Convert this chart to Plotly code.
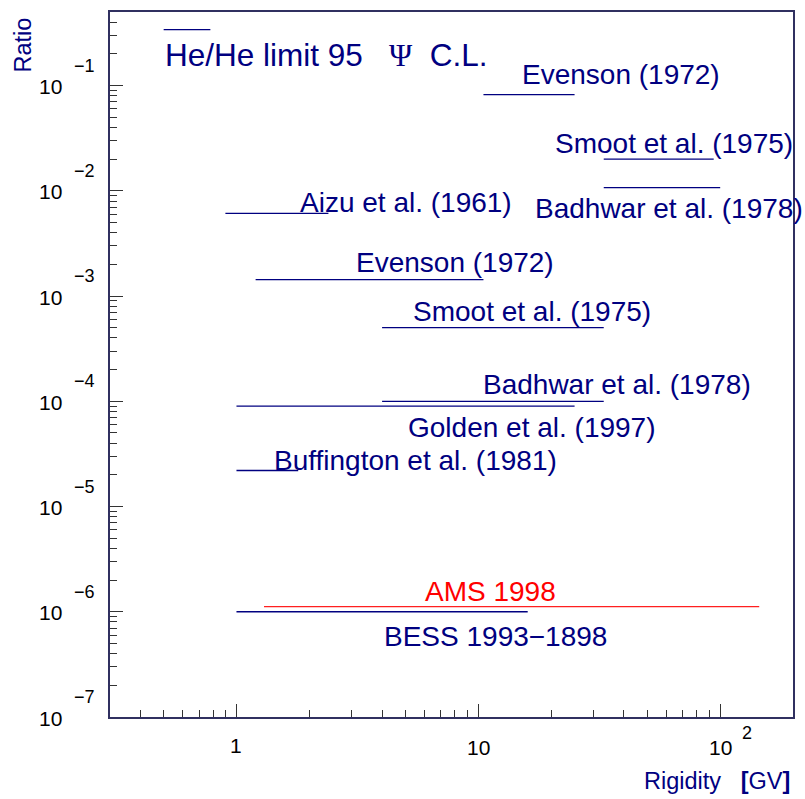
import numpy as np
import plotly.graph_objects as go

# ---------------- data ----------------
experiments = ["Evenson (1972)", "Smoot et al. (1975)", "Badhwar et al. (1978)",
               "Aizu et al. (1961)", "Evenson (1972)", "Smoot et al. (1975)",
               "Badhwar et al. (1978)", "Golden et al. (1997)", "Buffington et al. (1981)",
               "AMS 1998", "BESS 1993\u22121898"]
rig_lo = [10.5, 33.0, 33.0, 0.9, 1.2, 4.0, 4.0, 1.0, 1.0, 1.3, 1.0]
rig_hi = [25.0, 94.0, 100.0, 2.4, 10.5, 33.0, 33.0, 25.0, 1.8, 145.0, 16.0]
ratio = [8.2e-2, 2.0e-2, 1.07e-2, 6.1e-3, 1.43e-3, 5.0e-4, 1.0e-4, 9.0e-5, 2.2e-5, 1.12e-6, 1.0e-6]
is_ams = [False] * 9 + [True, False]

y_decades = [-7, -6, -5, -4, -3, -2, -1]

# label placement (log10 units: x, y of left/middle anchor)
label_pos = [(1.173, -0.895), (1.309, -1.551), (1.226, -2.168), (0.255, -2.111),
             (0.486, -2.681), (0.720, -3.146), (1.012, -3.840), (0.700, -4.248),
             (0.148, -4.561), (0.770, -5.805), (0.601, -6.233)]

# legend sample (rigidity range, ratio level)
legend_x = [0.5, 0.78]
legend_y = 0.34

NAVY = "#000080"
AXC = "#303060"
FONT = "Liberation Sans, Arial, sans-serif"

fig = go.Figure()
for lo, hi, r, ams in zip(rig_lo, rig_hi, ratio, is_ams):
    fig.add_trace(go.Scatter(x=[lo, hi], y=[r, r], mode="lines",
                             line=dict(color="#ff2020" if ams else NAVY, width=1.3),
                             showlegend=False, hoverinfo="skip", cliponaxis=False))

annotations = []
for txt, (lx, ly), ams in zip(experiments, label_pos, is_ams):
    annotations.append(dict(x=lx, y=ly, xref="x", yref="y", text=txt, showarrow=False,
                            xanchor="left", yanchor="middle",
                            font=dict(family=FONT, size=28, color="red" if ams else NAVY)))

# legend
annotations.append(dict(x=-0.305, y=-0.706, xref="x", yref="y", showarrow=False,
                        xanchor="left", yanchor="middle",
                        text="He/He limit 95\u00a0\u00a0\u00a0<span style='font-family:Liberation Serif'>\u03a8</span>\u00a0\u00a0C.L.",
                        font=dict(family=FONT, size=31.5, color=NAVY)))

# y tick labels
for e in y_decades:
    annotations.append(dict(x=0, y=e, xref="paper", yref="y", text="10", showarrow=False,
                            xanchor="right", yanchor="middle", xshift=-46, yshift=-1,
                            font=dict(family=FONT, size=21, color="black")))
    annotations.append(dict(x=0, y=e, xref="paper", yref="y", text="\u2212%d" % (-e),
                            showarrow=False, xanchor="left", yanchor="middle",
                            xshift=-38, yshift=20,
                            font=dict(family=FONT, size=18, color="black")))
# x tick labels
annotations.append(dict(x=0, y=0, xref="x", yref="paper", text="1", showarrow=False,
                        xanchor="center", yanchor="middle", yshift=-28,
                        font=dict(family=FONT, size=21, color="black")))
annotations.append(dict(x=1, y=0, xref="x", yref="paper", text="10", showarrow=False,
                        xanchor="center", yanchor="middle", yshift=-30,
                        font=dict(family=FONT, size=21, color="black")))
annotations.append(dict(x=2, y=0, xref="x", yref="paper", text="10", showarrow=False,
                        xanchor="center", yanchor="middle", yshift=-30,
                        font=dict(family=FONT, size=21, color="black")))
annotations.append(dict(x=2, y=0, xref="x", yref="paper", text="2", showarrow=False,
                        xanchor="left", yanchor="middle", xshift=20, yshift=-16,
                        font=dict(family=FONT, size=18, color="black")))

# axis titles
annotations.append(dict(x=0, y=1, xref="paper", yref="paper", text="Ratio", showarrow=False,
                        textangle=-90, xanchor="center", yanchor="top", xshift=-88, yshift=-4,
                        font=dict(family=FONT, size=23.5, color=NAVY)))
annotations.append(dict(x=1, y=0, xref="paper", yref="paper",
                        text="Rigidity\u00a0\u00a0\u00a0<b>[</b>GV<b>]</b>", showarrow=False,
                        xanchor="right", yanchor="middle", xshift=-1, yshift=-64,
                        font=dict(family=FONT, size=23.5, color=NAVY)))

fig.update_layout(
    width=805, height=799,
    margin=dict(l=110, r=10, t=10, b=82),
    paper_bgcolor="white", plot_bgcolor="white",
    annotations=annotations,
    shapes=[dict(type="line", xref="x", yref="y", x0=legend_x[0], x1=legend_x[1],
                 y0=legend_y, y1=legend_y, line=dict(color=NAVY, width=1.3))],
    xaxis=dict(type="log", range=[np.log10(0.3), np.log10(200)], showgrid=False,
               zeroline=False, showline=True, mirror=True, linecolor=AXC, linewidth=1.5,
               ticks="inside", ticklen=13, tickcolor="#333333", tickwidth=1,
               dtick=1, showticklabels=False,
               minor=dict(ticks="inside", ticklen=7, dtick="D1", tickcolor="#333333",
                          tickwidth=1, showgrid=False)),
    yaxis=dict(type="log", range=[-7, np.log10(0.5)], showgrid=False,
               zeroline=False, showline=True, mirror=True, linecolor=AXC, linewidth=1.5,
               ticks="inside", ticklen=13, tickcolor="#333333", tickwidth=1,
               dtick=1, showticklabels=False,
               minor=dict(ticks="inside", ticklen=7, dtick="D1", tickcolor="#333333",
                          tickwidth=1, showgrid=False)),
)

fig.write_html("out.html")
